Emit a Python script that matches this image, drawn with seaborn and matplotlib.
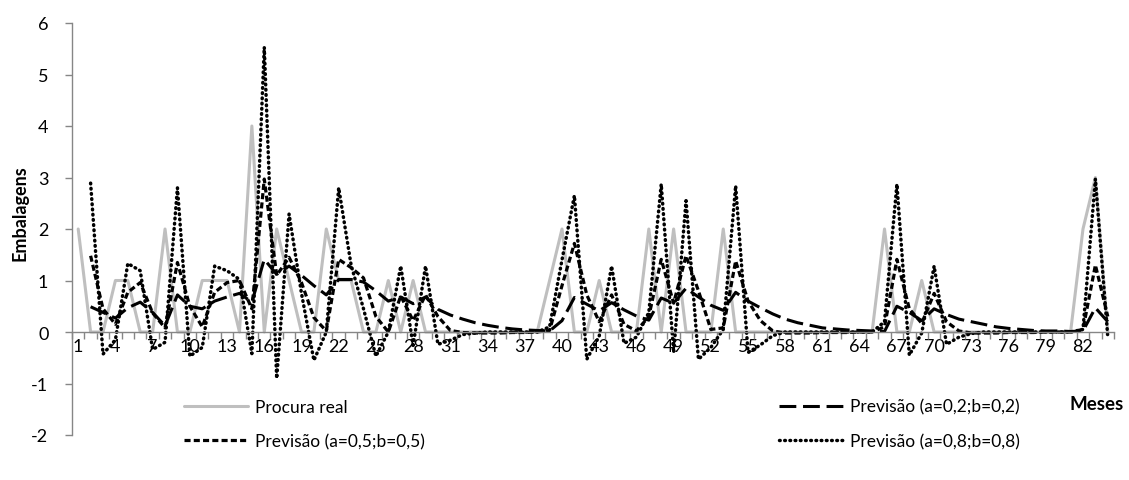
import numpy as np
import pandas as pd
import matplotlib
matplotlib.use("Agg")
import matplotlib.pyplot as plt
import seaborn as sns
from matplotlib.lines import Line2D

meses = list(range(1, 85))
tick_labels = [str(m) for m in range(1, 85, 3)]

procura_real = [2, 0, 0, 1, 1, 0, 0, 2, 0, 0,
                1, 1, 1, 0, 4, 0, 2, 1, 0, 0,
                2, 1, 1, 0, 0, 1, 0, 1, 0, 0,
                0, 0, 0, 0, 0, 0, 0, 0, 1, 2,
                0, 0, 1, 0, 0, 0, 2, 0, 2, 0,
                0, 0, 2, 0, 0, 0, 0, 0, 0, 0,
                0, 0, 0, 0, 0, 2, 0, 0, 1, 0,
                0, 0, 0, 0, 0, 0, 0, 0, 0, 0,
                0, 2, 3, 0]

prev_02 = [np.nan, 0.49, 0.38, 0.27, 0.47, 0.58, 0.38, 0.12, 0.72, 0.50,
           0.45, 0.60, 0.68, 0.75, 0.58, 1.41, 1.12, 1.28, 1.10, 0.90,
           0.72, 1.02, 1.02, 0.97, 0.80, 0.60, 0.68, 0.55, 0.68, 0.44,
           0.33, 0.25, 0.18, 0.13, 0.09, 0.06, 0.04, 0.03, 0.02, 0.22,
           0.67, 0.54, 0.41, 0.57, 0.43, 0.31, 0.23, 0.66, 0.56, 0.85,
           0.68, 0.52, 0.42, 0.77, 0.60, 0.47, 0.35, 0.25, 0.18, 0.13,
           0.08, 0.06, 0.04, 0.03, 0.02, 0.01, 0.50, 0.38, 0.22, 0.45,
           0.34, 0.25, 0.20, 0.15, 0.10, 0.07, 0.05, 0.03, 0.02, 0.02,
           0.01, 0.02, 0.47, 0.20]

prev_05 = [np.nan, 1.48, 0.45, 0.15, 0.77, 0.96, 0.37, 0.08, 1.35, 0.50,
           0.10, 0.77, 0.96, 1.00, 0.45, 2.97, 1.10, 1.45, 0.96, 0.28,
           0.02, 1.41, 1.25, 1.05, 0.30, 0.00, 0.70, 0.22, 0.72, 0.30,
           0.03, -0.01, -0.02, -0.02, -0.02, -0.01, -0.01, 0.00, 0.03, 0.90,
           1.72, 0.72, 0.20, 0.72, 0.15, 0.02, 0.30, 1.41, 0.56, 1.48,
           0.80, 0.05, 0.08, 1.38, 0.60, 0.22, 0.02, -0.02, -0.02, -0.02,
           -0.01, -0.01, -0.01, 0.00, 0.00, 0.10, 1.41, 0.45, 0.17, 0.75,
           0.20, 0.02, -0.02, -0.02, -0.02, -0.01, -0.01, -0.01, 0.00, 0.00,
           0.00, 0.05, 1.30, 0.30]

prev_08 = [np.nan, 2.89, -0.43, -0.15, 1.33, 1.19, -0.34, -0.20, 2.80, -0.47,
           -0.30, 1.28, 1.19, 1.02, -0.42, 5.53, -0.90, 2.29, 0.75, -0.55,
           0.00, 2.80, 1.30, 0.45, -0.47, 0.00, 1.28, -0.26, 1.28, -0.24,
           -0.16, -0.05, -0.02, 0.00, 0.00, 0.00, 0.00, 0.00, 0.10, 1.40,
           2.65, -0.53, -0.08, 1.28, -0.22, -0.10, 0.38, 2.87, -0.40, 2.55,
           -0.53, -0.30, 0.05, 2.84, -0.40, -0.25, -0.07, 0.00, 0.00, 0.00,
           0.00, 0.00, 0.00, 0.00, 0.00, 0.20, 2.87, -0.45, -0.02, 1.28,
           -0.24, -0.10, -0.03, 0.00, 0.00, 0.00, 0.00, 0.00, 0.00, 0.00,
           0.00, 0.05, 2.97, -0.10]

labels = ["Procura real", "Previsão (a=0,2;b=0,2)",
          "Previsão (a=0,5;b=0,5)", "Previsão (a=0,8;b=0,8)"]

sns.set_theme(style="white")
plt.rcParams['font.family'] = ['Lato', 'DejaVu Sans']
plt.rcParams['text.color'] = 'black'
plt.rcParams['xtick.labelcolor'] = 'black'
plt.rcParams['ytick.labelcolor'] = 'black'

fig = plt.figure(figsize=(11.29, 4.81), dpi=100)
ax = fig.add_axes([72/1129, 1-436/481, (1114-72)/1129, (436-24)/481])

styles = [
    dict(color="#BFBFBF", lw=2.2, ls="-", cap="butt"),
    dict(color="black", lw=2.2, ls=(0, (5.5, 2.2)), cap="butt"),
    dict(color="black", lw=2.3, ls=(0, (1.9, 1.0)), cap="butt"),
    dict(color="black", lw=2.5, ls=(0, (0.2, 1.3)), cap="round"),
]
series = [procura_real, prev_02, prev_05, prev_08]
for vals, st in zip(series, styles):
    sns.lineplot(x=meses, y=vals, ax=ax, color=st["color"], linewidth=st["lw"],
                 linestyle=st["ls"], dash_capstyle=st["cap"], legend=False)

ax.set_xlim(0.5, 84.5)
ax.set_ylim(-2, 6)
for s in ["top", "right"]:
    ax.spines[s].set_visible(False)
ax.spines["left"].set_color("#868686")
ax.spines["left"].set_linewidth(1.0)
ax.spines["bottom"].set_position(("data", 0))
ax.spines["bottom"].set_color("#868686")
ax.spines["bottom"].set_linewidth(1.0)

ax.set_yticks(range(-2, 7))
ax.set_yticklabels([str(v) for v in range(-2, 7)])
ax.tick_params(axis="y", which="major", length=5, width=1, color="#868686",
               direction="out", left=True, pad=12, labelsize=13)
ax.set_xticks(range(1, 85, 3))
ax.set_xticklabels(tick_labels)
ax.set_xticks(np.arange(0.5, 85, 1), minor=True)
ax.tick_params(axis="x", which="major", length=0, pad=4, labelsize=13, bottom=True)
ax.tick_params(axis="x", which="minor", length=5, width=1, color="#868686",
               direction="out", bottom=True)
ax.grid(False)
ax.set_xlabel("")
ax.set_ylabel("")

fig.text(20/1129, 1-213/481, "Embalagens", rotation=90, fontsize=13,
         fontweight="bold", ha="center", va="center")
fig.text(1097/1129, 1-404/481, "Meses", fontsize=13.5, fontweight="bold",
         ha="center", va="center")

handles = [Line2D([], [], color=st["color"], lw=st["lw"], ls=st["ls"],
                  dash_capstyle=st["cap"]) for st in styles]
order = [0, 2, 1, 3]
leg = fig.legend([handles[i] for i in order], [labels[i] for i in order],
                 ncol=2, loc="upper left", bbox_to_anchor=(168/1129, 1-384/481),
                 frameon=False, fontsize=12.5, handlelength=3.7, handletextpad=0.4,
                 columnspacing=20.4, labelspacing=1.05)

fig.savefig("out.png", dpi=100)
